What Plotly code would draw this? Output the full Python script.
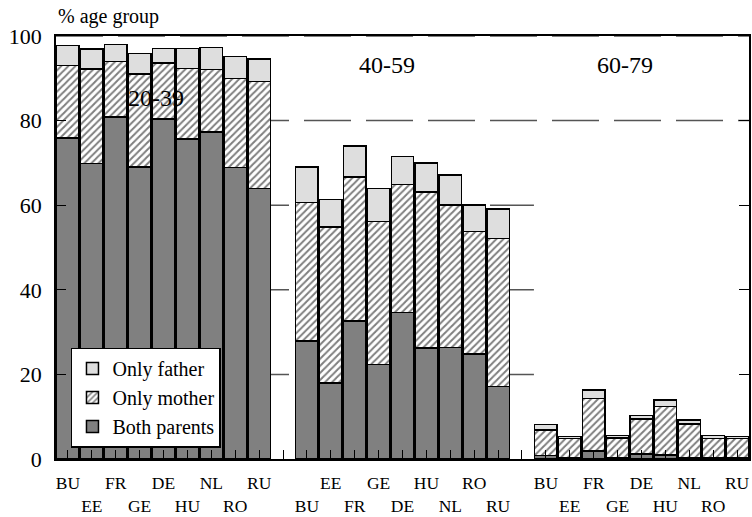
import plotly.graph_objects as go

# Countries shown in every age group, in plotting order
countries = ["BU", "EE", "FR", "GE", "DE", "HU", "NL", "RO", "RU"]
age_groups = ["20-39", "40-59", "60-79"]

# Percentage of the age group with living parents, by type (stacked)
both_parents = [
    [75.9, 69.9, 80.9, 69.0, 80.4, 75.7, 77.3, 68.9, 64.0],
    [27.9, 18.0, 32.6, 22.3, 34.6, 26.2, 26.4, 24.8, 17.1],
    [0.8, 0.2, 1.9, 0.3, 1.2, 1.0, 0.4, 0.3, 0.2],
]
only_mother = [
    [17.1, 22.3, 13.1, 22.0, 13.2, 16.6, 14.8, 21.0, 25.3],
    [32.7, 36.9, 34.1, 33.9, 30.3, 36.9, 33.7, 29.0, 35.0],
    [6.0, 4.7, 12.4, 4.7, 8.2, 11.4, 7.9, 4.5, 4.7],
]
only_father = [
    [4.7, 4.7, 4.0, 4.9, 3.4, 4.8, 5.2, 5.2, 5.3],
    [8.4, 6.4, 7.3, 7.8, 6.6, 6.9, 7.0, 6.3, 7.0],
    [1.4, 0.4, 2.0, 0.6, 0.9, 1.5, 0.9, 0.7, 0.4],
]
y_ticks = [0, 20, 40, 60, 80, 100]

FONT = "Liberation Serif, Times New Roman, serif"
n = len(countries)
slot = n + 1  # one empty slot between age groups

# Flatten groups onto one numeric axis
xs, b_vals, m_vals, f_vals = [], [], [], []
for g in range(len(age_groups)):
    for i in range(n):
        xs.append(g * slot + i)
        b_vals.append(both_parents[g][i])
        m_vals.append(only_mother[g][i])
        f_vals.append(only_father[g][i])

# Tick labels alternate between two rows
n_slots = len(age_groups) * slot - 1
tick_vals = list(range(n_slots))
tick_text = []
for s in tick_vals:
    g, i = divmod(s, slot)
    if i >= n:
        tick_text.append("")
    elif (i + g) % 2 == 0:
        tick_text.append(countries[i])
    else:
        tick_text.append("<br>" + countries[i])

line = dict(color="black", width=1.5)
fig = go.Figure()
fig.add_trace(go.Bar(
    x=xs, y=b_vals, name="Both parents", legendgroup="b", legendrank=3,
    marker=dict(color="#808080", line=line),
))
fig.add_trace(go.Bar(
    x=xs, y=m_vals, name="Only mother", legendgroup="m", legendrank=2,
    marker=dict(color="white", line=line,
                pattern=dict(shape="/", fgcolor="black", bgcolor="white",
                             size=5, solidity=0.4)),
))
fig.add_trace(go.Bar(
    x=xs, y=f_vals, name="Only father", legendgroup="f", legendrank=1,
    marker=dict(color="#dedede", line=line),
))

# Dashed gridlines; the lower ones stop before the oldest age group
last_group_start = 2 * slot - 0.5
for v in y_ticks[1:]:
    x_end = n_slots - 0.5 if v >= 80 else last_group_start
    fig.add_shape(type="line", xref="x", yref="y", x0=-0.5, x1=x_end, y0=v, y1=v,
                  layer="below", line=dict(color="#555555", width=1.5, dash="47px,15px"))

# Age-group captions
label_pos = [(0.145, 85.4), (0.478, 93.2), (0.821, 93.2)]
for txt, (px, py) in zip(age_groups, label_pos):
    fig.add_annotation(text=txt, x=px, y=py, xref="paper", yref="y",
                       xanchor="center", yanchor="middle", showarrow=False,
                       font=dict(family=FONT, size=24, color="black"))

fig.add_annotation(text="% age group", x=0, y=1.045, xref="paper", yref="paper",
                   xanchor="left", yanchor="middle", showarrow=False,
                   font=dict(family=FONT, size=20, color="black"))

fig.update_layout(
    width=752, height=517,
    margin=dict(l=56, r=1, t=36, b=56),
    paper_bgcolor="white", plot_bgcolor="white",
    barmode="stack", bargap=0.06,
    font=dict(family=FONT, color="black"),
    showlegend=True,
    legend=dict(
        x=0.0216, y=0.2635, xanchor="left", yanchor="top",
        traceorder="grouped", tracegroupgap=0,
        bgcolor="white", bordercolor="black", borderwidth=1.5,
        font=dict(family=FONT, size=20, color="black"),
    ),
)
fig.update_xaxes(
    range=[-0.5, n_slots - 0.5], tickmode="array",
    tickvals=tick_vals, ticktext=tick_text, tickangle=0,
    ticks="inside", ticklen=9, tickwidth=1.2, tickcolor="black",
    ticklabelstandoff=7,
    showline=True, linecolor="black", linewidth=1.5, mirror=True,
    showgrid=False, zeroline=False,
    tickfont=dict(family=FONT, size=17.5, color="black"),
)
fig.update_yaxes(
    range=[0, 100], tickmode="array", tickvals=y_ticks,
    ticks="inside", ticklen=10, tickwidth=1.2, tickcolor="black",
    ticklabelstandoff=8,
    showline=True, linecolor="black", linewidth=1.5, mirror="ticks",
    showgrid=False, zeroline=False,
    tickfont=dict(family=FONT, size=22, color="black"),
)

fig.write_html("out.html")
